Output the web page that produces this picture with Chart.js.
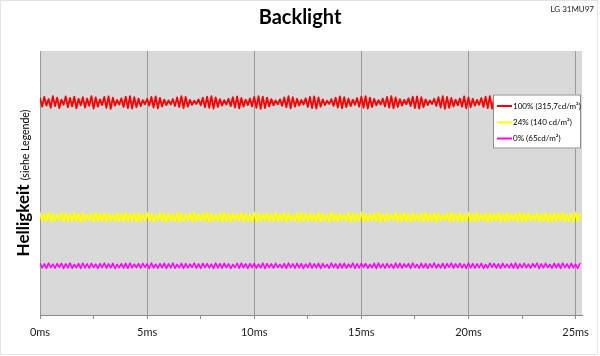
<!DOCTYPE html>
<html>
<head>
<meta charset="utf-8">
<script src="https://cdn.jsdelivr.net/npm/chart.js@4/dist/chart.umd.min.js"></script>
<style>
html,body{margin:0;padding:0;background:#fff;}
#wrap{width:600px;height:356px;position:relative;}
</style>
</head>
<body>
<div id="wrap"><canvas id="c" width="600" height="356"></canvas></div>
<script>
const TITLE = "Backlight";
const MODEL = "LG 31MU97";
const Y_TITLE_MAIN = "Helligkeit";
const Y_TITLE_SUB = "(siehe Legende)";
const SERIES_LABELS = ["100% (315,7cd/m²)", "24% (140 cd/m²)", "0% (65cd/m²)"];
const X_TICK_VALUES = [0, 5, 10, 15, 20, 25];

const TIME = [0,0.1,0.2,0.3,0.4,0.5,0.6,0.7,0.8,0.9,
1,1.1,1.2,1.3,1.4,1.5,1.6,1.7,1.8,1.9,
2,2.1,2.2,2.3,2.4,2.5,2.6,2.7,2.8,2.9,
3,3.1,3.2,3.3,3.4,3.5,3.6,3.7,3.8,3.9,
4,4.1,4.2,4.3,4.4,4.5,4.6,4.7,4.8,4.9,
5,5.1,5.2,5.3,5.4,5.5,5.6,5.7,5.8,5.9,
6,6.1,6.2,6.3,6.4,6.5,6.6,6.7,6.8,6.9,
7,7.1,7.2,7.3,7.4,7.5,7.6,7.7,7.8,7.9,
8,8.1,8.2,8.3,8.4,8.5,8.6,8.7,8.8,8.9,
9,9.1,9.2,9.3,9.4,9.5,9.6,9.7,9.8,9.9,
10,10.1,10.2,10.3,10.4,10.5,10.6,10.7,10.8,10.9,
11,11.1,11.2,11.3,11.4,11.5,11.6,11.7,11.8,11.9,
12,12.1,12.2,12.3,12.4,12.5,12.6,12.7,12.8,12.9,
13,13.1,13.2,13.3,13.4,13.5,13.6,13.7,13.8,13.9,
14,14.1,14.2,14.3,14.4,14.5,14.6,14.7,14.8,14.9,
15,15.1,15.2,15.3,15.4,15.5,15.6,15.7,15.8,15.9,
16,16.1,16.2,16.3,16.4,16.5,16.6,16.7,16.8,16.9,
17,17.1,17.2,17.3,17.4,17.5,17.6,17.7,17.8,17.9,
18,18.1,18.2,18.3,18.4,18.5,18.6,18.7,18.8,18.9,
19,19.1,19.2,19.3,19.4,19.5,19.6,19.7,19.8,19.9,
20,20.1,20.2,20.3,20.4,20.5,20.6,20.7,20.8,20.9,
21,21.1,21.2,21.3,21.4,21.5,21.6,21.7,21.8,21.9,
22,22.1,22.2,22.3,22.4,22.5,22.6,22.7,22.8,22.9,
23,23.1,23.2,23.3,23.4,23.5,23.6,23.7,23.8,23.9,
24,24.1,24.2,24.3,24.4,24.5,24.6,24.7,24.8,24.9,
25,25.1,25.2];

const RED_100 = [82.1,78.9,82.6,79.3,81.8,78.5,82.9,79.1,82.3,78.4,81.6,79.6,82.8,78.7,82.2,79.0,82.7,78.3,81.9,79.4,
82.5,78.6,82.0,79.2,82.9,78.2,82.4,78.9,81.7,79.5,82.6,78.5,82.8,78.1,82.3,79.3,81.5,79.7,82.1,78.8,
82.7,78.4,82.9,78.2,82.5,78.7,82.0,79.1,81.4,79.8,81.9,79.3,82.6,78.6,82.8,78.3,82.2,79.0,81.6,79.5,
81.3,79.7,81.8,79.2,82.4,78.8,82.9,78.4,82.6,78.9,81.5,79.6,81.2,79.9,81.7,79.4,82.3,78.7,82.7,78.5,
82.9,78.2,82.4,78.8,81.8,79.3,81.4,79.7,81.9,79.1,82.5,78.6,82.8,78.3,82.2,78.9,81.6,79.5,82.0,79.0,
82.6,78.5,82.9,78.1,82.7,78.4,82.3,79.0,81.8,79.4,81.3,79.8,81.7,79.2,82.4,78.7,82.9,78.3,82.5,78.9,
81.9,79.3,81.5,79.7,82.1,78.8,82.6,78.4,82.8,78.2,82.4,78.9,81.7,79.5,81.2,79.9,81.8,79.2,82.3,78.6,
82.8,78.3,82.5,78.7,82.0,79.1,81.6,79.6,82.2,78.9,82.7,78.5,82.9,78.2,82.3,78.8,81.9,79.4,81.4,79.7,
82.0,79.0,82.6,78.6,82.9,78.3,82.4,78.8,81.8,79.3,81.5,79.8,82.1,79.1,82.7,78.4,82.8,78.2,82.5,78.7,
81.7,79.5,81.3,79.9,81.9,79.2,82.5,78.6,82.9,78.1,82.6,78.5,82.2,79.0,81.6,79.4,82.0,78.9,82.8,78.3,
82.4,78.7,81.9,79.3,81.5,79.6,82.2,78.8,82.7,78.4,82.9,78.2,82.3,78.9,81.8,79.5,81.4,79.8,82.1,79.0,
82.6,78.5,82.9,78.3,82.5,78.8,81.9,79.2,81.6,79.6,82.3,78.7,82.8,78.4,82.0,79.1,81.7,79.4,82.4,78.6,
82.8,78.3,82.2,78.9,81.8,79.3,82.5,78.5,82.9,78.2,82.4,79.0,81.9];

const YELLOW_24 = [38.7,35.4,38.3,35.8,38.9,35.2,38.5,35.6,38.1,35.9,38.8,35.3,38.6,35.5,38.2,35.7,38.9,35.4,38.4,35.2,
38.8,35.6,38.0,35.9,38.6,35.3,38.9,35.5,38.3,35.7,38.7,35.2,38.5,35.8,38.1,35.4,38.8,35.6,38.4,35.3,
38.9,35.5,38.2,35.8,38.6,35.2,38.7,35.4,38.3,35.9,38.8,35.6,38.5,35.3,38.0,35.7,38.9,35.5,38.4,35.2,
38.6,35.8,38.2,35.4,38.9,35.3,38.5,35.6,38.1,35.9,38.7,35.2,38.8,35.5,38.3,35.7,38.6,35.4,38.9,35.3,
38.4,35.6,38.0,35.8,38.7,35.2,38.9,35.5,38.3,35.4,38.6,35.7,38.2,35.9,38.8,35.3,38.5,35.6,38.1,35.4,
38.9,35.2,38.6,35.5,38.3,35.8,38.7,35.3,38.4,35.6,38.9,35.4,38.2,35.7,38.8,35.2,38.5,35.9,38.0,35.5,
38.7,35.3,38.9,35.6,38.4,35.4,38.6,35.8,38.2,35.2,38.8,35.5,38.5,35.7,38.1,35.3,38.9,35.6,38.3,35.4,
38.6,35.9,38.0,35.5,38.8,35.2,38.7,35.4,38.4,35.7,38.9,35.3,38.5,35.6,38.2,35.8,38.6,35.4,38.9,35.2,
38.3,35.5,38.7,35.7,38.1,35.9,38.8,35.3,38.5,35.4,38.9,35.6,38.4,35.2,38.6,35.8,38.2,35.5,38.7,35.3,
38.9,35.6,38.3,35.4,38.8,35.2,38.5,35.7,38.0,35.9,38.6,35.3,38.9,35.5,38.4,35.6,38.7,35.2,38.2,35.8,
38.8,35.4,38.5,35.3,38.9,35.6,38.1,35.7,38.6,35.2,38.7,35.5,38.3,35.9,38.8,35.4,38.4,35.3,38.9,35.6,
38.2,35.8,38.6,35.2,38.9,35.5,38.5,35.4,38.7,35.7,38.0,35.9,38.8,35.3,38.4,35.6,38.9,35.2,38.3,35.5,
38.7,35.4,38.5,35.8,38.9,35.3,38.2,35.6,38.6,35.2,38.8,35.5,38.4];

const MAGENTA_0 = [19.6,17.8,19.4,17.6,19.7,17.9,19.3,17.7,19.5,18.0,19.6,17.6,19.4,17.8,19.7,17.7,19.2,17.9,19.5,17.6,
19.7,17.8,19.4,17.7,19.6,18.0,19.3,17.6,19.5,17.9,19.7,17.7,19.4,17.8,19.6,17.6,19.2,17.9,19.5,17.7,
19.6,17.6,19.7,17.8,19.3,17.9,19.5,17.7,19.6,18.0,19.4,17.6,19.7,17.8,19.3,17.7,19.5,17.9,19.6,17.6,
19.4,17.8,19.7,17.7,19.2,17.9,19.6,17.6,19.5,17.8,19.3,18.0,19.7,17.7,19.4,17.6,19.6,17.9,19.5,17.8,
19.3,17.6,19.7,17.8,19.5,17.7,19.6,17.9,19.4,17.6,19.2,18.0,19.6,17.7,19.7,17.8,19.4,17.6,19.5,17.9,
19.6,17.7,19.3,17.8,19.7,17.6,19.5,17.9,19.4,17.7,19.6,18.0,19.2,17.8,19.5,17.6,19.7,17.9,19.4,17.7,
19.6,17.8,19.5,17.6,19.3,17.9,19.7,17.7,19.4,17.8,19.6,17.6,19.5,18.0,19.2,17.7,19.7,17.9,19.4,17.6,
19.5,17.8,19.6,17.7,19.3,17.9,19.7,17.6,19.4,17.8,19.6,18.0,19.5,17.7,19.2,17.9,19.6,17.6,19.7,17.8,
19.4,17.7,19.5,17.9,19.3,17.6,19.7,17.8,19.6,17.7,19.4,18.0,19.5,17.6,19.7,17.9,19.2,17.7,19.6,17.8,
19.5,17.6,19.4,17.9,19.7,17.7,19.3,17.8,19.6,17.6,19.5,18.0,19.7,17.7,19.4,17.9,19.6,17.8,19.3,17.6,
19.7,17.8,19.5,17.7,19.4,17.9,19.6,17.6,19.2,17.8,19.7,18.0,19.5,17.7,19.4,17.6,19.6,17.9,19.3,17.8,
19.5,17.7,19.7,17.6,19.4,17.9,19.6,17.8,19.3,17.7,19.5,18.0,19.7,17.6,19.4,17.8,19.6,17.9,19.2,17.7,
19.6,17.8,19.5,17.6,19.7,17.9,19.4,17.7,19.6,17.8,19.3,17.6,19.5];

const COLORS = ["#ff0000", "#ffff00", "#ff00ff"];
const SERIES = [RED_100, YELLOW_24, MAGENTA_0];

const toPoints = (ys) => ys.map((y, i) => ({x: TIME[i], y: y}));

const isMultiple = (v, m) => Math.abs(v / m - Math.round(v / m)) < 1e-6;

const decorPlugin = {
  id: 'decor',
  beforeDraw(chart) {
    const {ctx, chartArea: a} = chart;
    ctx.save();
    ctx.fillStyle = '#ffffff';
    ctx.fillRect(0, 0, chart.width, chart.height);
    ctx.strokeStyle = '#e3e3e3';
    ctx.lineWidth = 1;
    ctx.strokeRect(0.5, 0.5, chart.width - 3, chart.height - 2);
    ctx.fillStyle = '#d9d9d9';
    ctx.fillRect(a.left, a.top, a.right - a.left, a.bottom - a.top);
    ctx.restore();
  },
  afterDraw(chart) {
    const {ctx, chartArea: a} = chart;
    ctx.save();
    ctx.fillStyle = '#000';
    ctx.font = 'bold 20px Lato';
    ctx.textAlign = 'center';
    ctx.textBaseline = 'alphabetic';
    ctx.fillText(TITLE, 300, 24);
    ctx.font = '8px Lato';
    ctx.textAlign = 'right';
    ctx.fillStyle = '#222';
    ctx.fillText(MODEL, 594, 12);
    ctx.fillStyle = '#000';
    ctx.translate(29, (a.top + a.bottom) / 2);
    ctx.rotate(-Math.PI / 2);
    ctx.textAlign = 'left';
    const fMain = 'bold 17px Lato', fSub = '10.5px Lato';
    ctx.font = fMain;
    const w1 = ctx.measureText(Y_TITLE_MAIN + ' ').width;
    ctx.font = fSub;
    const w2 = ctx.measureText(Y_TITLE_SUB).width;
    const start = -(w1 + w2) / 2;
    ctx.font = fMain;
    ctx.fillText(Y_TITLE_MAIN, start, 0);
    ctx.font = fSub;
    ctx.fillText(Y_TITLE_SUB, start + w1, 0);
    ctx.restore();

    ctx.save();
    const bx = 493, by = 94.5, bw = 88, bh = 54;
    ctx.fillStyle = '#ffffff';
    ctx.fillRect(bx, by, bw, bh);
    ctx.strokeStyle = '#8c8c8c';
    ctx.lineWidth = 1;
    ctx.strokeRect(bx + 0.5, by + 0.5, bw - 1, bh - 1);
    const rows = [106, 122.5, 138.5];
    chart.data.datasets.forEach((ds, i) => {
      ctx.strokeStyle = ds.borderColor;
      ctx.lineWidth = 2;
      ctx.beginPath();
      ctx.moveTo(497, rows[i]);
      ctx.lineTo(512, rows[i]);
      ctx.stroke();
      ctx.fillStyle = '#000';
      ctx.font = '8px Lato';
      ctx.textAlign = 'left';
      ctx.textBaseline = 'middle';
      ctx.fillText(ds.label, 513, rows[i]);
    });
    ctx.restore();
  }
};

new Chart(document.getElementById('c'), {
  type: 'line',
  data: {
    datasets: SERIES.map((s, i) => ({
      label: SERIES_LABELS[i],
      data: toPoints(s),
      borderColor: COLORS[i],
      backgroundColor: COLORS[i],
      borderWidth: i === 2 ? 1.5 : 1.8,
      borderJoinStyle: 'round',
      borderCapStyle: 'round',
      pointRadius: 0,
      tension: 0,
      fill: false
    }))
  },
  options: {
    responsive: false,
    animation: false,
    events: [],
    layout: {padding: {left: 40, top: 51, right: 18, bottom: 0}},
    plugins: {legend: {display: false}, title: {display: false}, tooltip: {enabled: false}},
    scales: {
      x: {
        type: 'linear',
        min: 0,
        max: 25.3,
        afterFit: (s) => { s.height = 41; },
        border: {display: true, color: '#8a8a8a', width: 1},
        grid: {
          drawOnChartArea: true,
          drawTicks: true,
          tickLength: 4,
          color: (c) => (c.tick && isMultiple(c.tick.value, 5)) ? '#9a9a9a' : 'rgba(0,0,0,0)',
          tickColor: (c) => (c.tick && isMultiple(c.tick.value, 2.5)) ? '#8a8a8a' : 'rgba(0,0,0,0)',
          lineWidth: 1
        },
        ticks: {
          stepSize: 2.5,
          includeBounds: false,
          autoSkip: false,
          maxRotation: 0,
          padding: 7,
          color: '#222',
          font: {family: 'Lato', size: 11},
          callback: (v) => X_TICK_VALUES.some(t => Math.abs(t - v) < 1e-6) ? v + 'ms' : ''
        }
      },
      y: {
        display: false,
        min: 0,
        max: 100
      }
    }
  },
  plugins: [decorPlugin]
});
</script>
</body>
</html>
